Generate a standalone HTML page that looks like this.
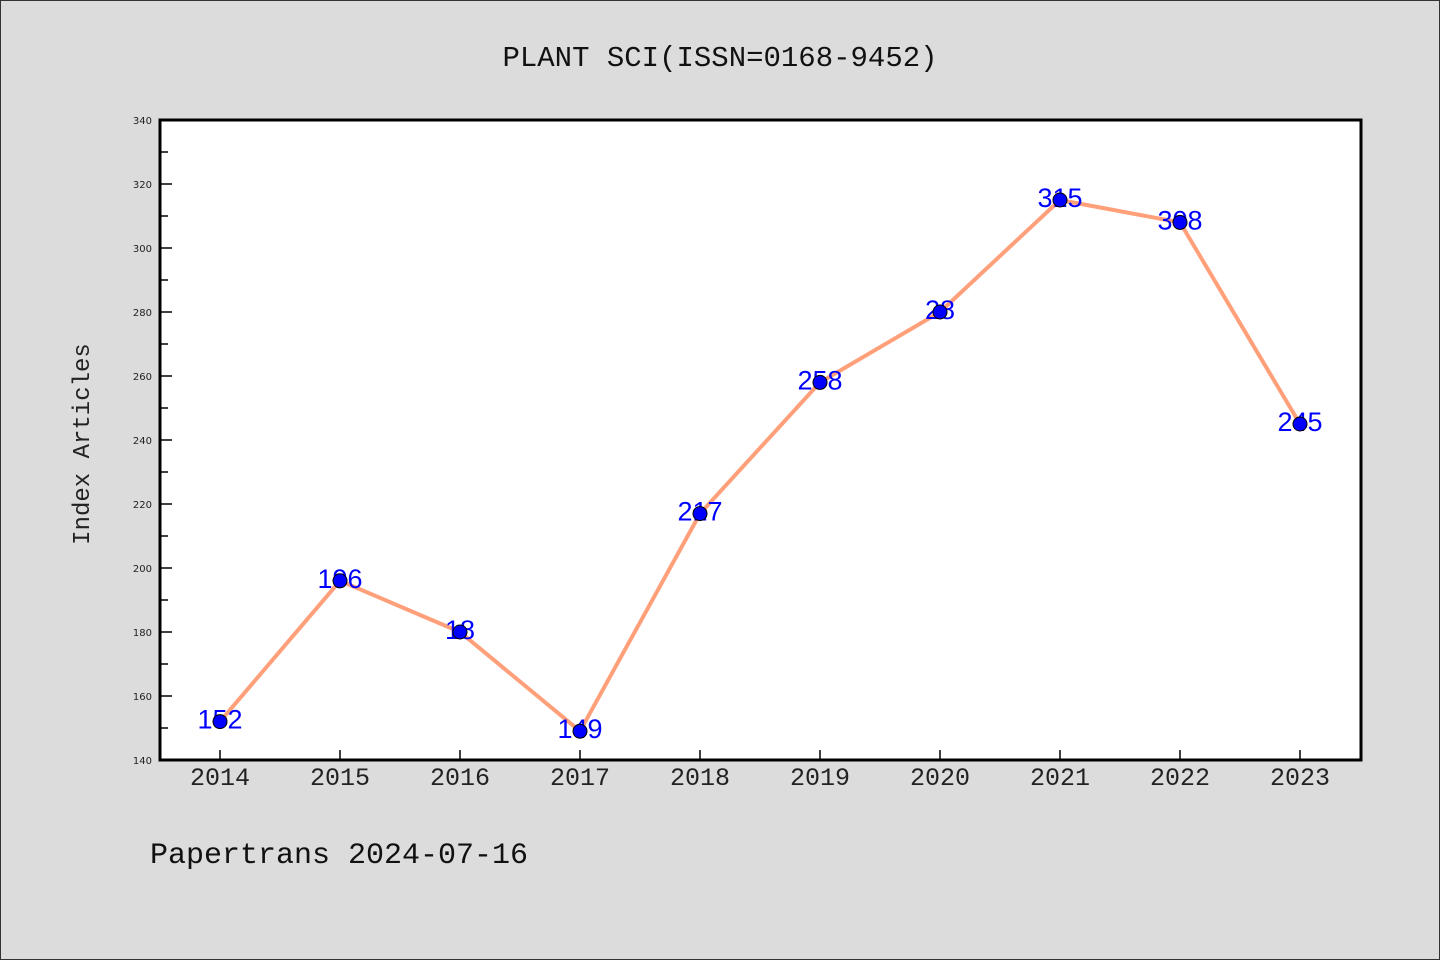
<!DOCTYPE html>
<html><head><meta charset="utf-8"><style>
html,body{margin:0;padding:0;background:#dcdcdc;}
#wrap{width:1438px;height:958px;border:1px solid #333;position:relative;background:#dcdcdc;}
svg{position:absolute;left:-1px;top:-1px;}
</style></head><body>
<div id="wrap">
<svg id="chart" width="1440" height="960"></svg>
</div>
<script>
const years = ["2014","2015","2016","2017","2018","2019","2020","2021","2022","2023"];
const values = [152,196,180,149,217,258,280,315,308,245];
const printed = ["152","196","18","149","217","258","28","315","308","245"];
const yTicks = [140,160,180,200,220,240,260,280,300,320,340];

const NS="http://www.w3.org/2000/svg";
const svg=document.getElementById('chart');
const L=160,R=1361,T=120,B=760;
const yMin=140,yMax=340;
const x=i=>220+i*120;
const y=v=>B-(v-yMin)/(yMax-yMin)*(B-T);
function mk(tag,attrs,text){const e=document.createElementNS(NS,tag);for(const k in attrs)e.setAttribute(k,attrs[k]);if(text!==undefined)e.textContent=text;svg.appendChild(e);return e;}

let e=mk('rect',{x:L,y:T,width:R-L,height:B-T,fill:'#fff'});



e=mk('text',{x:720,y:66,'text-anchor':'middle','font-family':'Liberation Mono, monospace','font-size':29,fill:'#111'},'PLANT SCI(ISSN=0168-9452)');



e=mk('text',{x:0,y:0,transform:'translate(89,444) rotate(-90)','text-anchor':'middle','font-family':'Liberation Mono, monospace','font-size':24,fill:'#222'},'Index Articles');



e=mk('text',{x:150,y:863,'font-family':'Liberation Mono, monospace','font-size':30,fill:'#111'},'Papertrans 2024-07-16');



yTicks.forEach((t,i)=>{
  const yy=y(t);
  let tk=mk('line',{x1:L,x2:L+12,y1:yy,y2:yy,stroke:'#000','stroke-width':1.5});
  
  
  if(i<yTicks.length-1){
    const ym=y(t+10);
    let mt=mk('line',{x1:L,x2:L+8,y1:ym,y2:ym,stroke:'#000','stroke-width':1.5});
    
    
  }
  let lb=mk('text',{x:152,y:yy+4,'text-anchor':'end','font-family':'DejaVu Sans, sans-serif','font-size':10,fill:'#222'},String(t));
  
  
});

years.forEach((yr,i)=>{
  let tk=mk('line',{x1:x(i),x2:x(i),y1:B,y2:B-10,stroke:'#000','stroke-width':1.5});
  
  
  let lb=mk('text',{x:x(i),y:785,'text-anchor':'middle','font-family':'Liberation Mono, monospace','font-size':25,fill:'#222'},yr);
  
  
});

e=mk('rect',{x:L,y:T,width:R-L,height:B-T,fill:'none',stroke:'#000','stroke-width':3});



e=mk('polyline',{points:values.map((v,i)=>x(i)+','+y(v)).join(' '),fill:'none',stroke:'#ffa07a','stroke-width':4,'stroke-linejoin':'round'});



values.forEach((v,i)=>{
  let lb=mk('text',{x:x(i),y:y(v)+7,'text-anchor':'middle','font-family':'Liberation Sans, sans-serif','font-size':27,fill:'#0000ff'},printed[i]);
  
  
});
values.forEach((v,i)=>{
  let p=mk('circle',{cx:x(i),cy:y(v),r:7,fill:'#0000ff',stroke:'#000','stroke-width':1});
  
  
});
</script>
</body></html>
